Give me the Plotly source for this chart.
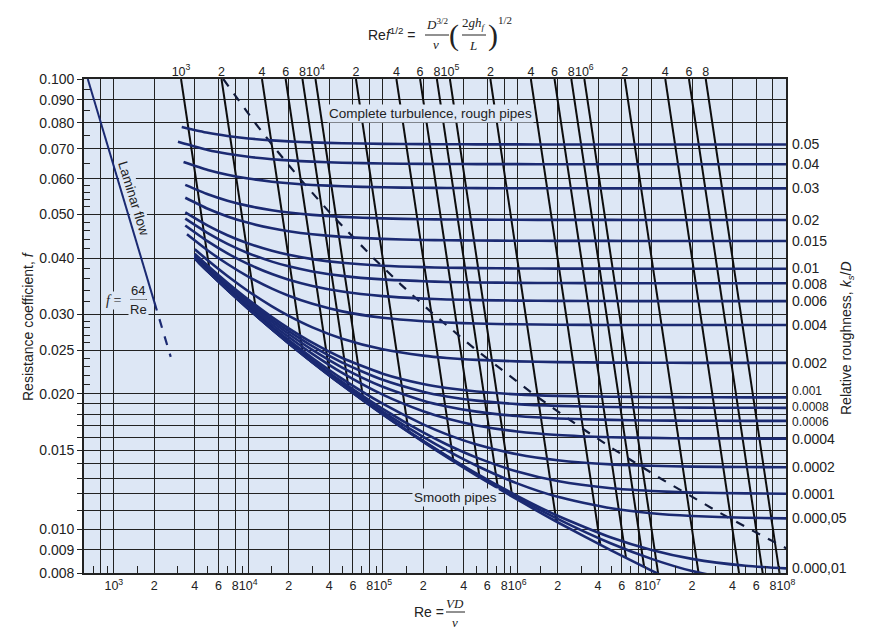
import numpy as np
import plotly.graph_objects as go

# ---------------- data ----------------
roughness_labels = ["0.05", "0.04", "0.03", "0.02", "0.015", "0.01", "0.008", "0.006", "0.004", "0.002",
                    "0.001", "0.0008", "0.0006", "0.0004", "0.0002", "0.0001", "0.000,05", "0.000,01", "", ""]
# Reynolds number where each roughness curve starts (left end)
re_start = [3200, 3000, 3300, 3400, 3400, 3400, 3400, 3400, 3500, 4000, 4000, 4000, 4000, 4000,
            4000, 4000, 4000, 4000, 4200, 4300]
# common Reynolds numbers at which the curves were read
re_grid = [5e3, 7e3, 1e4, 1.5e4, 2e4, 3e4, 5e4, 1e5, 2e5, 3e5, 5e5, 1e6, 2e6, 5e6, 1e7, 2e7, 5e7, 1e8]

f_0_05 = [0.07826, 0.07595, 0.07473, 0.07380, 0.07306, 0.07269, 0.07231, 0.07201, 0.07178, 0.07167, 0.07163, 0.07160, 0.07157, 0.07156, 0.07156, 0.07155, 0.07155, 0.07155, 0.07155]
f_0_04 = [0.07254, 0.06957, 0.06823, 0.06719, 0.06637, 0.06595, 0.06553, 0.06519, 0.06493, 0.06480, 0.06476, 0.06472, 0.06470, 0.06468, 0.06468, 0.06467, 0.06467, 0.06467, 0.06467]
f_0_03 = [0.06539, 0.06280, 0.06129, 0.06011, 0.05916, 0.05867, 0.05818, 0.05778, 0.05748, 0.05733, 0.05728, 0.05724, 0.05720, 0.05719, 0.05718, 0.05718, 0.05718, 0.05717, 0.05717]
f_0_02 = [0.05821, 0.05548, 0.05369, 0.05227, 0.05112, 0.05052, 0.04991, 0.04941, 0.04903, 0.04883, 0.04877, 0.04872, 0.04868, 0.04866, 0.04865, 0.04864, 0.04864, 0.04864, 0.04864]
f_0_015 = [0.05450, 0.05151, 0.04952, 0.04793, 0.04660, 0.04591, 0.04520, 0.04461, 0.04415, 0.04392, 0.04385, 0.04378, 0.04374, 0.04371, 0.04370, 0.04369, 0.04369, 0.04369, 0.04369]
f_0_01 = [0.05059, 0.04726, 0.04499, 0.04313, 0.04155, 0.04071, 0.03982, 0.03908, 0.03850, 0.03821, 0.03811, 0.03803, 0.03796, 0.03793, 0.03792, 0.03791, 0.03791, 0.03790, 0.03790]
f_0_008 = [0.04896, 0.04546, 0.04304, 0.04103, 0.03931, 0.03837, 0.03739, 0.03655, 0.03589, 0.03555, 0.03543, 0.03534, 0.03527, 0.03523, 0.03521, 0.03520, 0.03520, 0.03520, 0.03520]
f_0_006 = [0.04728, 0.04358, 0.04100, 0.03880, 0.03689, 0.03584, 0.03471, 0.03373, 0.03295, 0.03254, 0.03240, 0.03229, 0.03220, 0.03216, 0.03213, 0.03212, 0.03212, 0.03212, 0.03212]
f_0_004 = [0.04522, 0.04162, 0.03883, 0.03641, 0.03424, 0.03302, 0.03168, 0.03048, 0.02950, 0.02897, 0.02879, 0.02864, 0.02853, 0.02847, 0.02844, 0.02843, 0.02842, 0.02842, 0.02842]
f_0_002 = [0.04189, 0.03957, 0.03651, 0.03379, 0.03127, 0.02979, 0.02809, 0.02651, 0.02511, 0.02431, 0.02402, 0.02379, 0.02361, 0.02351, 0.02346, 0.02344, 0.02343, 0.02342, 0.02342]
f_0_001 = [0.04091, 0.03850, 0.03529, 0.03238, 0.02961, 0.02795, 0.02597, 0.02402, 0.02217, 0.02103, 0.02060, 0.02024, 0.01994, 0.01979, 0.01970, 0.01967, 0.01965, 0.01964, 0.01964]
f_0_0008 = [0.04071, 0.03828, 0.03504, 0.03209, 0.02926, 0.02755, 0.02551, 0.02346, 0.02148, 0.02022, 0.01973, 0.01931, 0.01897, 0.01880, 0.01869, 0.01865, 0.01863, 0.01862, 0.01861]
f_0_0006 = [0.04051, 0.03806, 0.03478, 0.03179, 0.02891, 0.02715, 0.02503, 0.02287, 0.02073, 0.01931, 0.01875, 0.01826, 0.01785, 0.01763, 0.01750, 0.01745, 0.01743, 0.01741, 0.01741]
f_0_0004 = [0.04031, 0.03784, 0.03453, 0.03149, 0.02855, 0.02674, 0.02453, 0.02225, 0.01991, 0.01829, 0.01762, 0.01701, 0.01649, 0.01620, 0.01602, 0.01596, 0.01592, 0.01591, 0.01590]
f_0_0002 = [0.04011, 0.03762, 0.03427, 0.03119, 0.02818, 0.02632, 0.02402, 0.02159, 0.01901, 0.01710, 0.01625, 0.01543, 0.01468, 0.01424, 0.01394, 0.01384, 0.01378, 0.01375, 0.01374]
f_0_0001 = [0.04001, 0.03750, 0.03414, 0.03104, 0.02799, 0.02610, 0.02375, 0.02125, 0.01851, 0.01641, 0.01543, 0.01443, 0.01344, 0.01280, 0.01234, 0.01217, 0.01207, 0.01202, 0.01200]
f_0_00005 = [0.03996, 0.03745, 0.03408, 0.03096, 0.02790, 0.02599, 0.02362, 0.02107, 0.01826, 0.01604, 0.01497, 0.01384, 0.01265, 0.01181, 0.01114, 0.01086, 0.01071, 0.01061, 0.01058]
f_0_00001 = [0.03992, 0.03740, 0.03402, 0.03090, 0.02782, 0.02591, 0.02351, 0.02093, 0.01804, 0.01572, 0.01457, 0.01330, 0.01187, 0.01072, 0.00959, 0.00900, 0.00860, 0.00830, 0.00819]
f_0_000005 = [0.03934, 0.03740, 0.03402, 0.03089, 0.02782, 0.02589, 0.02350, 0.02091, 0.01802, 0.01568, 0.01452, 0.01323, 0.01176, 0.01055, 0.00930, 0.00860, 0.00808, 0.00765]
f_smooth = [0.03907, 0.03739, 0.03401, 0.03088, 0.02781, 0.02588, 0.02348, 0.02089, 0.01799, 0.01564, 0.01446, 0.01316, 0.01165, 0.01037, 0.00898, 0.00810, 0.00734]

# lines of constant Re*f^(1/2) (top-axis values) and the friction factor where each ends
re_sqrt_f = [1e3, 2e3, 4e3, 6e3, 8e3, 1e4, 2e4, 4e4, 6e4, 8e4, 1e5, 2e5, 4e5, 6e5, 8e5, 1e6, 2e6, 4e6, 6e6, 8e6]
black_f_end = [0.03697, 0.02970, 0.02438, 0.02190, 0.02037, 0.01929, 0.01643, 0.01416, 0.01304, 0.01233,
               0.01181, 0.01041, 0.00924, 0.00864, 0.00825, 0.00797, 0.00718, 0.00650, 0.00614, 0.00591]
f_at_top = 0.1

# dashed boundary of complete turbulence
dash_f = [0.1, 0.09, 0.08, 0.07, 0.06, 0.05, 0.04, 0.035, 0.03, 0.025, 0.02, 0.017, 0.015, 0.013, 0.012, 0.011, 0.010, 0.0095, 0.009]
dash_re = [6.52e3, 8.36e3, 1.12e4, 1.59e4, 2.43e4, 4.16e4, 8.55e4, 1.36e5, 2.4e5, 4.97e5, 1.31e6, 2.83e6, 5.34e6,
           1.15e7, 1.81e7, 3.02e7, 5.41e7, 7.48e7, 1.06e8]

# laminar flow f = 64/Re
lam_re_solid = [640, 2000]
lam_f_solid = [0.1, 0.032]
lam_re_dash = [2000, 2650]
lam_f_dash = [0.032, 0.02415]

curve_f = [f_0_05, f_0_04, f_0_03, f_0_02, f_0_015, f_0_01, f_0_008, f_0_006, f_0_004, f_0_002, f_0_001,
           f_0_0008, f_0_0006, f_0_0004, f_0_0002, f_0_0001, f_0_00005, f_0_00001, f_0_000005, f_smooth]
label_shift = {"0.001": 6, "0.0008": 1, "0.0006": -1, "0.01": 1, "0.008": -1}
label_size = {"0.001": 12, "0.0008": 12, "0.0006": 12}

# ---------------- figure ----------------
L, R, T, B = 84, 786, 79, 573


def px(x):
    return (x - L) / (R - L)


def py(y):
    return (B - y) / (B - T)


NAVY = "#1b2a72"
BG = "#dde7f5"
GRID = "#222222"
FONT = "Liberation Sans, Arial, sans-serif"
SERIF = "Liberation Serif, Times New Roman, serif"
XFONT = dict(family=FONT, size=12.5)

fig = go.Figure()

for c, fe in zip(re_sqrt_f, black_f_end):
    fig.add_trace(go.Scatter(x=[c / np.sqrt(f_at_top), c / np.sqrt(fe)], y=[f_at_top, fe], mode="lines",
                             line=dict(color="#0d0d0d", width=2), hoverinfo="skip", showlegend=False))

fig.add_trace(go.Scatter(x=dash_re, y=dash_f, mode="lines",
                         line=dict(color="#111a3a", width=2.2, dash="dash"), showlegend=False))

for rs, fv in zip(re_start, curve_f):
    xs = [rs] + re_grid[:len(fv) - 1]
    fig.add_trace(go.Scatter(x=xs, y=fv, mode="lines",
                             line=dict(color=NAVY, width=2.6, shape="spline", smoothing=0.6),
                             showlegend=False))

fig.add_trace(go.Scatter(x=lam_re_solid, y=lam_f_solid, mode="lines", line=dict(color=NAVY, width=2), showlegend=False))
fig.add_trace(go.Scatter(x=lam_re_dash, y=lam_f_dash, mode="lines", line=dict(color=NAVY, width=2.2, dash="dash"),
                         showlegend=False))
fig.add_trace(go.Scatter(x=[], y=[], xaxis="x2", showlegend=False))

x_major, x_text = [], []
for d in range(2, 9):
    for m in [1, 2, 4, 6, 8]:
        v = m * 10 ** d
        if v < 700 or v > 1e8:
            continue
        x_major.append(v)
        if v < 1000:
            x_text.append("")
        elif m == 1:
            x_text.append("10<sup>%d</sup>" % d)
        else:
            x_text.append(str(m))
x_minor = [m * 10 ** d for d in range(2, 8) for m in [1.5, 3, 5, 7, 9] if 650 < m * 10 ** d < 1e8]

top_vals, top_text = [], []
for d in range(3, 7):
    for m in [1, 2, 4, 6, 8]:
        top_vals.append(m * 10 ** d)
        top_text.append("10<sup>%d</sup>" % d if m == 1 else str(m))

y_lab = [0.008, 0.009, 0.010, 0.015, 0.020, 0.025, 0.030, 0.040, 0.050, 0.060, 0.070, 0.080, 0.090, 0.100]
y_grid_extra = [0.011, 0.012, 0.013, 0.014, 0.016, 0.017, 0.018, 0.019]
y_vals = sorted(y_lab + y_grid_extra)
y_text = ["%.3f" % v if v in y_lab else "" for v in y_vals]
y_minor = [0.021, 0.022, 0.023, 0.024, 0.026, 0.027, 0.028, 0.029, 0.032, 0.034, 0.036, 0.038, 0.042, 0.044,
           0.046, 0.048, 0.052, 0.054, 0.056, 0.058, 0.065, 0.075, 0.085, 0.095]

fig.update_layout(
    width=875, height=632, margin=dict(l=L, r=875 - R, t=T, b=632 - B),
    paper_bgcolor="white", plot_bgcolor=BG,
    font=dict(family=FONT, size=14, color="#222"),
    xaxis=dict(type="log", range=[np.log10(600), 8], tickmode="array", tickvals=x_major, ticktext=x_text,
               tickangle=0, showgrid=True, gridcolor=GRID, gridwidth=1.3, ticks="", showline=True,
               linecolor=GRID, linewidth=1.6, mirror=True, tickfont=XFONT,
               minor=dict(tickmode="array", tickvals=x_minor, ticks="inside", ticklen=7, tickcolor=GRID,
                          showgrid=False),
               zeroline=False),
    xaxis2=dict(type="log", overlaying="x", side="top", range=[np.log10(600) - 0.5, 7.5], tickmode="array",
                tickvals=top_vals, ticktext=top_text, tickangle=0, showgrid=False, ticks="", showline=False,
                tickfont=XFONT),
    yaxis=dict(type="log", range=[np.log10(0.008), np.log10(0.1)], tickmode="array", tickvals=y_vals,
               ticktext=y_text, showgrid=True, gridcolor=GRID, gridwidth=1.3, ticks="outside", ticklen=5,
               tickcolor=GRID, showline=True, linecolor=GRID, linewidth=1.6, mirror=True,
               tickfont=dict(size=14),
               minor=dict(tickmode="array", tickvals=y_minor, ticks="inside", ticklen=6, tickcolor=GRID,
                          showgrid=False),
               zeroline=False),
    showlegend=False,
)

ann = []
for fv, lab in zip(curve_f, roughness_labels):
    if lab:
        ann.append(dict(x=1.007, xref="paper", y=np.log10(fv[-1]), yref="y", text=lab, showarrow=False,
                        xanchor="left", yanchor="middle", yshift=label_shift.get(lab, 0), borderpad=0,
                        font=dict(size=label_size.get(lab, 14))))


def pa(x, y, text, **kw):
    d = dict(x=px(x), y=py(y), xref="paper", yref="paper", text=text, showarrow=False,
             xanchor="center", yanchor="middle")
    d.update(kw)
    return d


ann += [
    pa(430, 114, "Complete turbulence, rough pipes", font=dict(size=13.5), bgcolor=BG, borderpad=1),
    pa(455, 497, "Smooth pipes", font=dict(size=13.5), bgcolor=BG, borderpad=1),
    pa(134, 198, "Laminar flow", textangle=73, font=dict(size=13.5), bgcolor=BG, borderpad=0),
    pa(113, 300, "<i>f</i> =", font=dict(family=SERIF, size=14), bgcolor=BG),
    pa(138, 290, "64", font=dict(size=13), bgcolor=BG),
    pa(138, 309, "Re", font=dict(size=13), bgcolor=BG),
    pa(28, 326, "Resistance coefficient, <i>f</i>", textangle=-90, font=dict(size=14)),
    pa(847, 338, "Relative roughness, <i>k<sub>s</sub></i>/<i>D</i>", textangle=-90, font=dict(size=14)),
    pa(429, 612, "Re =", font=dict(size=14)),
    pa(455, 603, "<i>VD</i>", font=dict(family=SERIF, size=13)),
    pa(455, 622, "<i>ν</i>", font=dict(family=SERIF, size=13)),
    pa(392, 34, "Re<i>f</i><sup>1/2</sup> =", font=dict(size=14)),
    pa(437, 24, "<i>D</i><sup>3/2</sup>", font=dict(family=SERIF, size=13)),
    pa(436, 45, "<i>ν</i>", font=dict(family=SERIF, size=13)),
    pa(454, 35, "(", font=dict(family=SERIF, size=30)),
    pa(474, 24, "2<i>gh<sub>f</sub></i>", font=dict(family=SERIF, size=13)),
    pa(473, 46, "<i>L</i>", font=dict(family=SERIF, size=13)),
    pa(493, 35, ")", font=dict(family=SERIF, size=30)),
    pa(505, 20, "1/2", font=dict(family=SERIF, size=11)),
]
fig.update_layout(annotations=ann)


def hline(x0, x1, y):
    return dict(type="line", xref="paper", yref="paper", x0=px(x0), x1=px(x1), y0=py(y), y1=py(y),
                line=dict(color="#222", width=1))


fig.update_layout(shapes=[hline(130, 147, 299.5), hline(446, 465, 612), hline(425, 449, 35), hline(462, 486, 35)])

fig.write_html("out.html")
